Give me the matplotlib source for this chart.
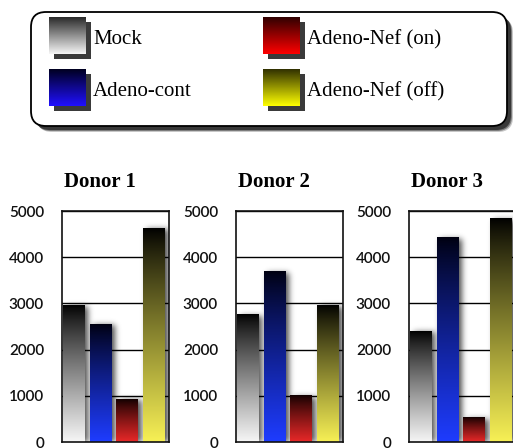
import numpy as np
import matplotlib
matplotlib.use("Agg")
import matplotlib.pyplot as plt
from matplotlib.patches import FancyBboxPatch, Rectangle
from matplotlib.colors import to_rgb

# ---- data ----
donors = ["Donor 1", "Donor 2", "Donor 3"]
conditions = ["Mock", "Adeno-cont", "Adeno-Nef (on)", "Adeno-Nef (off)"]
mock = [2950, 2750, 2400]
adeno_cont = [2550, 3680, 4420]
nef_on = [930, 1000, 520]
nef_off = [4630, 2950, 4830]
yticks = [0, 1000, 2000, 3000, 4000, 5000]
ytick_labels = ["0", "1000", "2000", "3000", "4000", "5000"]

series = [mock, adeno_cont, nef_on, nef_off]
bar_bottom_colors = ["#f6f6f6", "#1e3cff", "#e82828", "#f7f055"]
bar_top_colors = ["#000000", "#000010", "#100000", "#000000"]
leg_top_colors = ["#2a2a2a", "#000020", "#300000", "#303000"]
leg_bottom_colors = ["#f6f6f6", "#2010ff", "#ff0000", "#ffff00"]

W, H = 513, 448
fig = plt.figure(figsize=(W / 100, H / 100), dpi=100)
fig.patch.set_facecolor("white")


def gradient(top, bottom, n=256, gamma=1.0):
    t = np.linspace(0, 1, n)[:, None] ** gamma
    a = np.array(to_rgb(top))[None, :]
    b = np.array(to_rgb(bottom))[None, :]
    return (a * (1 - t) + b * t)[:, None, :]


def blur1d(arr, sigma, axis):
    r = int(3 * sigma) + 1
    k = np.exp(-0.5 * (np.arange(-r, r + 1) / sigma) ** 2)
    k /= k.sum()
    return np.apply_along_axis(lambda m: np.convolve(m, k, mode="same"), axis, arr)


ax_left_px = [62, 236, 409]
ax_w_px, ax_h_px = 107, 231
ax_bottom_px = 442
bar_w = 0.8
bar_off = 0.03
ymax = 5000

for d, donor in enumerate(donors):
    ax = fig.add_axes([ax_left_px[d] / W, (H - ax_bottom_px) / H, ax_w_px / W, ax_h_px / H])
    ax.set_facecolor("white")
    vals = [s[d] for s in series]
    xs = np.arange(len(conditions)) + bar_off

    # blurred drop shadow
    nx, ny = ax_w_px * 2, ax_h_px * 2
    gx = (np.arange(nx) + 0.5) / nx * len(conditions)
    gy = (np.arange(ny) + 0.5) / ny * ymax
    X, Y = np.meshgrid(gx, gy)
    mask = np.zeros_like(X)
    dx = 4 / ax_w_px * len(conditions)
    dy = 1 / ax_h_px * ymax
    for x0, v in zip(xs, vals):
        mask[(X >= x0 + dx) & (X <= x0 + bar_w + dx) & (Y <= v - dy)] = 1.0
    m = blur1d(blur1d(mask, 6, 0), 6, 1)
    img = np.zeros((ny, nx, 4))
    img[..., 3] = np.clip(m * 0.7, 0, 1)
    ax.imshow(img, extent=(0, len(conditions), 0, ymax), origin="lower",
              aspect="auto", zorder=1.5, interpolation="bilinear")

    # gradient bars
    bars = ax.bar(xs, vals, width=bar_w, align="edge", color="none", zorder=2)
    for i, (b, v) in enumerate(zip(bars, vals)):
        g = gradient(bar_top_colors[i], bar_bottom_colors[i], gamma=0.85)
        ax.imshow(g, extent=(b.get_x(), b.get_x() + b.get_width(), 0, v),
                  aspect="auto", zorder=2, interpolation="bilinear")

    ax.set_xlim(0, len(conditions))
    ax.set_ylim(0, ymax)
    ax.set_xticks([])
    ax.set_yticks(yticks)
    ax.set_yticklabels(ytick_labels, fontfamily="Lato", fontweight="semibold",
                       fontsize=11, color="#111111")
    ax.tick_params(axis="y", length=0, pad=13)
    ax.yaxis.grid(True, color="black", lw=1.0)
    ax.set_axisbelow(True)
    for sp in ax.spines.values():
        sp.set_color("#111111")
        sp.set_linewidth(1.2)
    ax.text(0.355, 1 + 24 / ax_h_px, donor, transform=ax.transAxes, ha="center",
            va="baseline", fontfamily="Liberation Serif", fontweight="bold",
            fontsize=15, color="black")

# ---- legend panel ----
lax = fig.add_axes([0, 0, 1, 1])
lax.set_xlim(0, W)
lax.set_ylim(H, 0)
lax.axis("off")

box_x, box_y, box_w, box_h = 31, 12, 476, 114
for k, (off, a) in enumerate([(6, 0.25), (5, 0.45), (4, 0.75)]):
    lax.add_patch(FancyBboxPatch((box_x + off, box_y + off), box_w, box_h,
                                 boxstyle="round,pad=0,rounding_size=15",
                                 fc="#222222", ec="none", alpha=a))
lax.add_patch(FancyBboxPatch((box_x, box_y), box_w, box_h,
                             boxstyle="round,pad=0,rounding_size=15",
                             fc="white", ec="black", lw=1.3))

sw_pos = [(49, 17), (49, 69), (263, 17), (263, 69)]
sw = 37
for i, name in enumerate(conditions):
    sx, sy = sw_pos[i]
    lax.add_patch(Rectangle((sx + 5, sy + 5), sw, sw, fc="#3a3a3a", ec="none"))
    g = gradient(leg_top_colors[i], leg_bottom_colors[i])
    lax.imshow(g, extent=(sx, sx + sw, sy + sw, sy), aspect="auto",
               interpolation="bilinear", zorder=3)
    lax.text(sx + sw + 7, sy + 27, name, fontfamily="Liberation Serif", fontsize=15,
             va="baseline", ha="left", color="black", zorder=4)
lax.set_xlim(0, W)
lax.set_ylim(H, 0)

fig.savefig("out.png", dpi=100)
